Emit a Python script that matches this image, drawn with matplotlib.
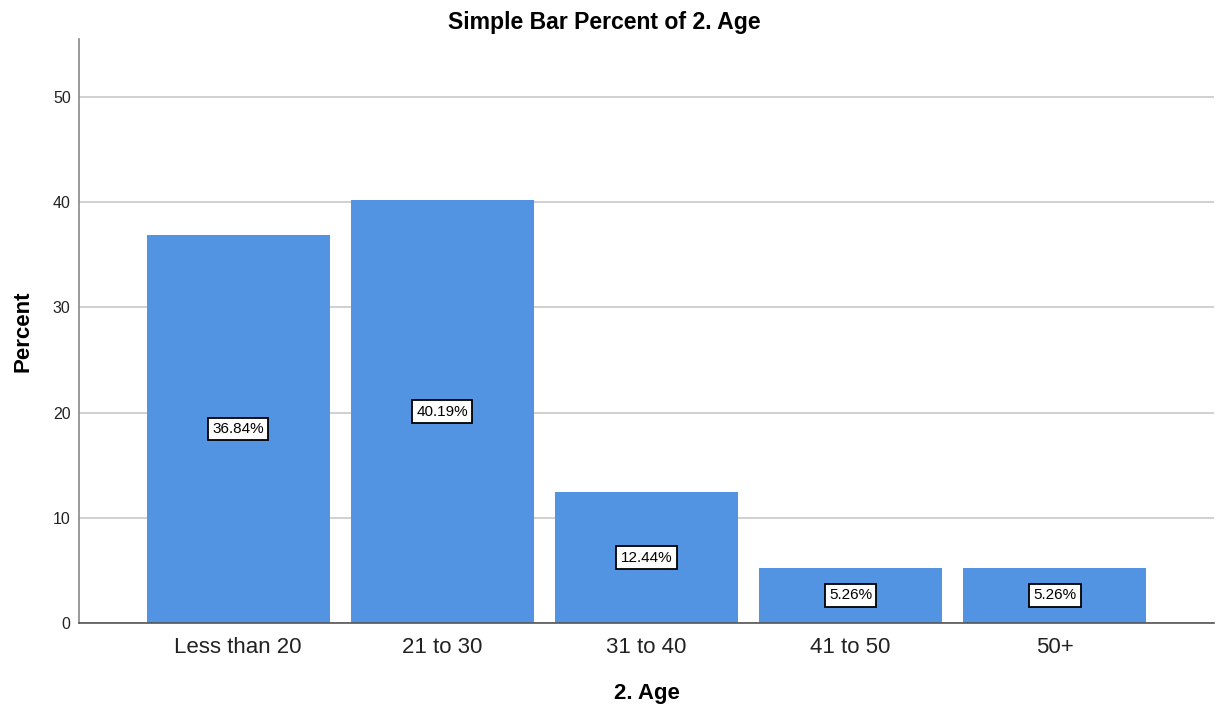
import matplotlib
matplotlib.use("Agg")
import matplotlib.pyplot as plt
import numpy as np

plt.rcParams["font.family"] = ["Liberation Sans", "DejaVu Sans"]

AGE_GROUPS = ["Less than 20", "21 to 30", "31 to 40", "41 to 50", "50+"]
PERCENTS = [36.84, 40.19, 12.44, 5.26, 5.26]
Y_TICKS = [0, 10, 20, 30, 40, 50]

BAR_COLOR = "#5294e2"

fig = plt.figure(figsize=(12.19, 7.11), dpi=100)
ax = fig.add_axes([0.0648, 0.1238, 0.9311, 0.8213])

x = np.arange(len(AGE_GROUPS))
ax.bar(x, PERCENTS, width=0.896, color=BAR_COLOR, zorder=2)

# value labels sit at half the bar height
for xi, val in zip(x, PERCENTS):
    ax.text(xi, val / 2, f"{val:.2f}%", ha="center", va="center", fontsize=11,
            zorder=3,
            bbox=dict(boxstyle="square,pad=0.28", facecolor="white",
                      edgecolor="black", linewidth=1.3))

ax.set_xlim(-0.78, 4.78)
ax.set_ylim(0, 55.5)
ax.set_xticks(x)
ax.set_xticklabels(AGE_GROUPS, fontsize=16, color="#222222")
ax.set_yticks(Y_TICKS)
ax.set_yticklabels([str(t) for t in Y_TICKS], fontsize=11.5, color="#222222")
ax.tick_params(axis="both", length=0)
ax.tick_params(axis="x", pad=10)
ax.tick_params(axis="y", pad=6)

ax.yaxis.grid(True, color="#c8c8c8", linewidth=1.2, zorder=0)
ax.set_axisbelow(True)

for side in ["top", "right"]:
    ax.spines[side].set_visible(False)
ax.spines["left"].set_color("#888888")
ax.spines["left"].set_linewidth(1.2)
ax.spines["bottom"].set_color("#555555")
ax.spines["bottom"].set_linewidth(1.2)

ax.set_xlabel("2. Age", fontsize=16, fontweight="bold", labelpad=18)
ax.set_ylabel("Percent", fontsize=16, fontweight="bold", labelpad=14)
fig.suptitle("Simple Bar Percent of 2. Age", x=0.496, y=0.969, va="center",
             fontsize=16.6, fontweight="bold")

fig.savefig("out.png", dpi=100)
